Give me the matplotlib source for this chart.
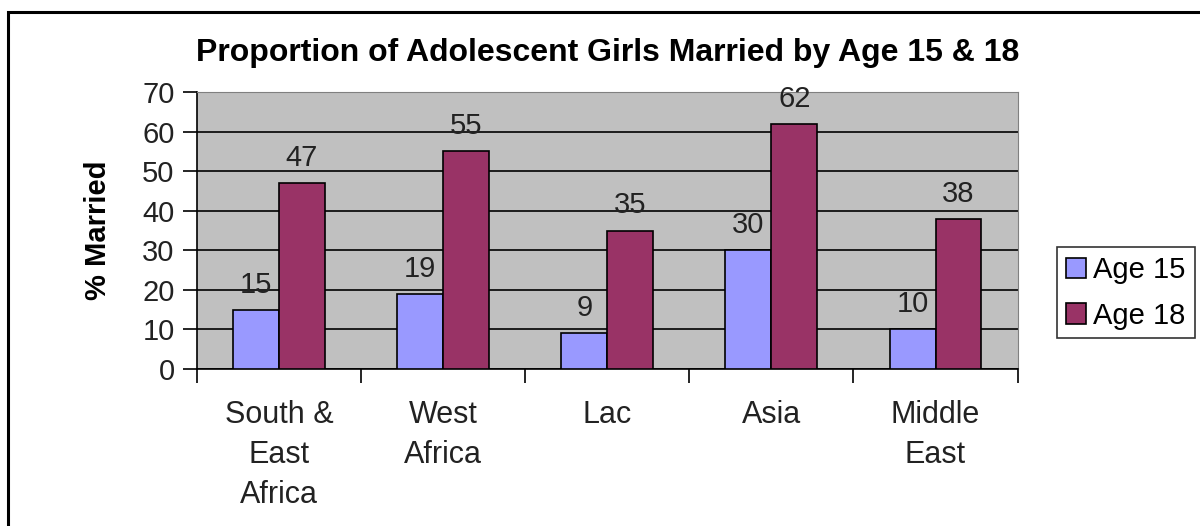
import numpy as np
import matplotlib.pyplot as plt
from matplotlib.patches import Rectangle

plt.rcParams['font.family'] = ['Liberation Sans', 'DejaVu Sans']

regiones = ["South &\nEast\nAfrica", "West\nAfrica", "Lac", "Asia", "Middle\nEast"]
edad15 = [15, 19, 9, 30, 10]
edad18 = [47, 55, 35, 62, 38]
yticks = [0, 10, 20, 30, 40, 50, 60, 70]

fig = plt.figure(figsize=(12, 5.26), dpi=100)
ax = fig.add_axes([0.164, 0.2985, 0.684, 0.5265])
ax.set_facecolor("#C0C0C0")

x = np.arange(len(regiones))
ancho = 0.28
b1 = ax.bar(x - ancho / 2, edad15, ancho, color="#9999FF", edgecolor="black",
            linewidth=1.2, label="Age 15", zorder=3)
b2 = ax.bar(x + ancho / 2, edad18, ancho, color="#993366", edgecolor="black",
            linewidth=1.2, label="Age 18", zorder=3)

for barras, vals in ((b1, edad15), (b2, edad18)):
    for b, v in zip(barras, vals):
        ax.annotate(str(v), (b.get_x() + b.get_width() / 2, v),
                    xytext=(0, 8), textcoords="offset points",
                    ha="center", va="bottom", fontsize=21, color="#222222")

ax.set_ylim(0, 70)
ax.set_yticks(yticks)
ax.set_xlim(-0.5, len(regiones) - 0.5)
ax.set_xticks(np.arange(len(regiones) + 1) - 0.5)
ax.set_xticklabels([])
ax.set_xticks(x, minor=True)
ax.set_xticklabels(regiones, minor=True, fontsize=22, color="#222222",
                   linespacing=1.45)
ax.tick_params(axis="x", which="minor", length=0, pad=22)
ax.tick_params(axis="x", which="major", length=10, width=1.2, direction="out")
ax.tick_params(axis="y", length=10, width=1.2, labelsize=21,
               labelcolor="#222222", pad=6)

ax.yaxis.grid(True, color="black", linewidth=1.2, zorder=1)
ax.set_axisbelow(True)
for lado in ("top", "right"):
    ax.spines[lado].set_color("#808080")
for lado in ("left", "bottom"):
    ax.spines[lado].set_color("black")
    ax.spines[lado].set_linewidth(1.2)

ax.set_title("Proportion of Adolescent Girls Married by Age 15 & 18",
             fontsize=23, fontweight="bold", pad=22)
ax.set_ylabel("% Married", fontsize=21, fontweight="bold", labelpad=22)

leg = ax.legend(loc="center left", bbox_to_anchor=(1.048, 0.275), fontsize=21,
                frameon=True, fancybox=False, edgecolor="black",
                handlelength=0.7, handleheight=0.7, handletextpad=0.25,
                borderpad=0.3, labelspacing=0.6, borderaxespad=0)
leg.get_frame().set_linewidth(1.2)

marco = Rectangle((8 / 1200, -0.1), 1.1, (526 - 12) / 526 + 0.1,
                  transform=fig.transFigure, fill=False, edgecolor="black",
                  linewidth=2.2, clip_on=False)
fig.patches.append(marco)

fig.savefig("out.png", dpi=100)
